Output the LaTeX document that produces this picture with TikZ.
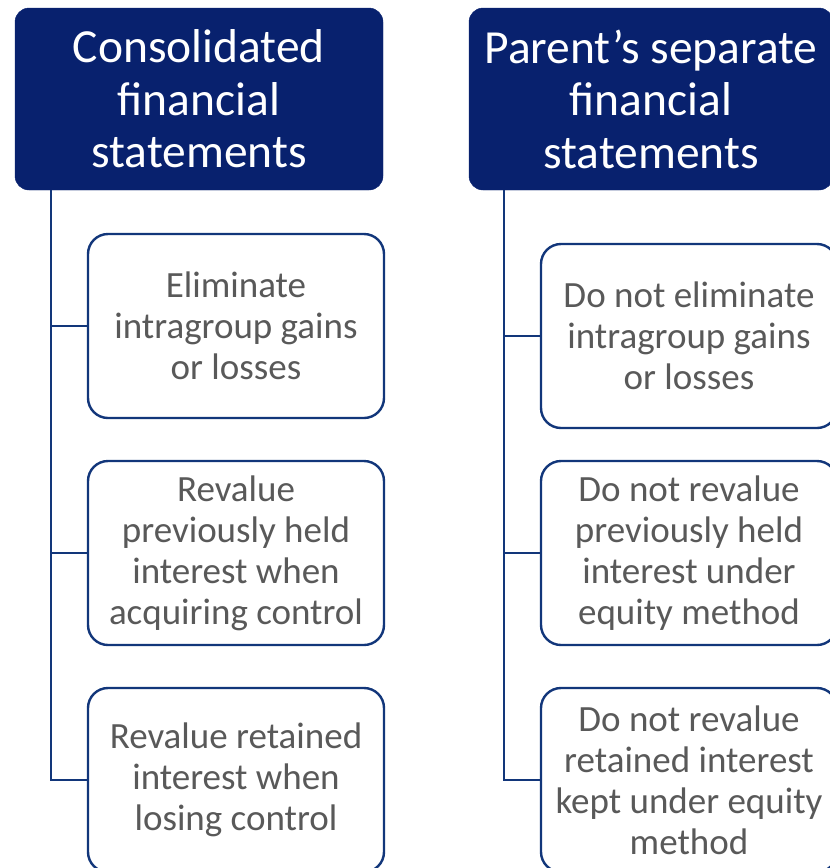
\documentclass[tikz,border=0pt]{standalone}
\usepackage{fontspec}
\setmainfont{Carlito}
\definecolor{navy}{RGB}{8,33,110}
\definecolor{edge}{RGB}{18,54,122}
\definecolor{txt}{RGB}{89,89,89}
\tikzset{
  head/.style={draw=navy, fill=navy, rounded corners=14pt, text=white, align=center,
    font=\fontsize{47.5}{52.5}\selectfont, inner sep=0pt, minimum height=182pt},
  item/.style={draw=edge, line width=2.4pt, fill=white, rounded corners=20pt, text=txt, align=center,
    font=\fontsize{37}{41}\selectfont, inner sep=0pt, minimum height=184pt},
  link/.style={draw=edge, line width=2.6pt}
}
\begin{document}
\begin{tikzpicture}[x=1pt,y=-1pt]
\clip (0,0) rectangle (830,868);
\useasboundingbox (0,0) rectangle (830,868);
\node[head, minimum width=368pt] (h1) at (199,99) {Consolidated\\financial\\statements};
\node[head, minimum width=364pt] (h2) at (651,99) {Parent’s separate\\financial\\statements};
\node[item, minimum width=296pt] (c1) at (236,326) {Eliminate\\intragroup gains\\or losses};
\node[item, minimum width=296pt] (c2) at (236,553) {Revalue\\previously held\\interest when\\acquiring control};
\node[item, minimum width=296pt] (c3) at (236,780) {Revalue retained\\interest when\\losing control};
\node[item, minimum width=296pt] (d1) at (689,336) {Do not eliminate\\intragroup gains\\or losses};
\node[item, minimum width=296pt] (d2) at (689,553) {Do not revalue\\previously held\\interest under\\equity method};
\node[item, minimum width=296pt] (d3) at (689,780) {Do not revalue\\retained interest\\kept under equity\\method};
\coordinate (s1) at ([xshift=36pt]h1.south west);
\coordinate (s2) at ([xshift=35pt]h2.south west);
\draw[link] (s1) |- (c3.west);
\draw[link] (s1 |- c1.west) -- (c1.west);
\draw[link] (s1 |- c2.west) -- (c2.west);
\draw[link] (s2) |- (d3.west);
\draw[link] (s2 |- d1.west) -- (d1.west);
\draw[link] (s2 |- d2.west) -- (d2.west);
\end{tikzpicture}
\end{document}
